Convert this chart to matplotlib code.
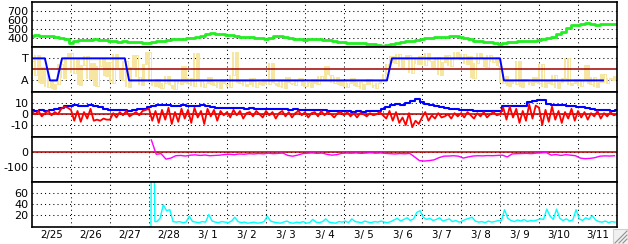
import matplotlib
matplotlib.use('Agg')
import matplotlib.pyplot as plt
import numpy as np
from matplotlib.patches import Rectangle

# ---------------- data ----------------
day_labels = ['2/25', '2/26', '2/27', '2/28', '3/ 1', '3/ 2', '3/ 3', '3/ 4',
              '3/ 5', '3/ 6', '3/ 7', '3/ 8', '3/ 9', '3/10', '3/11']

# panel 1: green, 3h samples from 2/25 00:00
green_step = 0.125
green = [425, 428, 422, 418, 420, 410, 400, 385,
         350, 362, 375, 380, 378, 385, 382, 376,
         372, 365, 360, 362, 358, 355, 352, 350,
         345, 352, 362, 370, 378, 385, 388, 392,
         398, 405, 412, 425, 440, 458, 448, 442,
         438, 430, 420, 415, 412, 408, 400, 395,
         392, 405, 418, 422, 410, 400, 392, 385,
         380, 384, 388, 386, 380, 375, 368, 360,
         352, 350, 348, 345, 340, 335, 328, 318,
         315, 325, 338, 345, 352, 362, 372, 382,
         390, 398, 405, 408, 410, 412, 418, 425,
         415, 400, 385, 370, 362, 358, 352, 345,
         335, 342, 352, 360, 365, 368, 370, 372,
         378, 385, 395, 410, 440, 470, 510, 540,
         550, 560, 565, 558, 550, 555, 558, 555,
         556]

# panel 2: pale yellow signal, 2h samples
yellow_step = 1 / 12
yellow = [0.8, -0.5, 1.3, -1.2, 0.2, -1.6, -1.0, -1.8, -1.3, 0.5, -0.8, 1.1,
          1.5, -0.3, 0.9, -1.4, 0.4, 1.2, -0.9, 0.6, -1.5, 0.3, 1.0, -0.6,
          0.7, -1.2, 1.4, 0.1, -1.0, 0.8, -1.6, 0.2, 1.3, -0.7, -1.4, 0.5,
          1.6, -1.1, -1.5, -0.9, -1.7, -1.2, -0.6, -1.4, -1.8, -1.0, -1.3, 0.3,
          -1.2, -0.8, -1.5, 1.5, -1.0, -1.6, -1.2, -0.7, -1.4, -1.1, -1.7, -0.9,
          -1.3, -1.6, -0.5, 1.6, -1.2, -1.0, -1.5, -1.3, -0.8, -1.6, -1.1, -1.4,
          -0.9, -1.3, 0.6, -1.2, -1.5, -1.0, -1.7, -0.7, -1.2, -1.4, -1.0, -0.8,
          -1.5, -1.1, -1.6, -0.9, -1.3, -0.6, -1.0, 0.3, -0.5, -1.2, -0.7, -1.4,
          -1.0, -1.6, -1.2, -0.8, -1.5, -1.1, -1.8, -1.3, -0.9, -1.4, -1.7, -1.2,
          -1.0, -0.4, 0.5, 1.2, 0.6, 1.4, 0.2, 0.9, 1.3, -0.3, 1.0, 0.5,
          1.2, 0.4, 1.5, 0.8, 0.1, 1.1, -0.5, 0.7, 1.3, 0.3, 1.0, 1.6,
          0.9, 1.4, 0.5, 1.2, -0.8, 0.6, 1.5, 1.0, 0.2, 1.3, 0.7, 1.1,
          0.3, -1.2, -0.6, -1.5, -1.0, -1.3, 0.8, -1.6, -0.9, -1.1, -1.4, -0.7,
          -1.2, 0.5, -1.6, -1.0, -1.3, -0.5, -1.7, -1.1, -0.8, 1.0, -1.4, -1.2,
          -0.9, -1.5, -1.0, 0.4, -1.3, -0.7, -1.6, -1.1, -0.4, -1.2, -0.8, -1.0,
          -0.6]

# panel 2: blue state line (T = 1, A = -1)
state_t = [0, 0.33, 0.46, 0.64, 0.77, 2.38, 2.49, 9.10, 9.23, 12.0, 12.1, 14.64]
state_v = [1, 1, -1, -1, 1, 1, -1, -1, 1, 1, -1, -1]

# panel 3: blue (3h) and red (2h)
blue3_step = 0.125
blue3 = [3.5, 3.2, 3.8, 3.4, 3.6, 4.5, 6.0, 7.2,
         7.8, 8.2, 7.6, 8.0, 8.3, 7.5, 6.5, 5.2,
         4.3, 3.8, 4.0, 3.5, 3.2, 3.8, 4.5, 5.2,
         6.5, 8.0, 8.4, 8.2, 8.6, 8.0, 7.8, 8.3,
         7.6, 7.9, 7.5, 8.2, 7.4, 7.0, 6.2, 5.8,
         5.5, 5.8, 5.3, 5.6, 5.0, 5.4, 5.2, 4.8,
         5.0, 4.6, 5.1, 4.4, 4.8, 4.2, 4.5, 4.0,
         4.3, 3.8, 4.1, 3.6, 3.9, 3.4, 3.0, 3.3,
         2.8, 3.1, 2.5, 2.9, 2.4, 2.8, 3.2, 2.6,
         4.5, 7.0, 8.5, 9.0, 8.8, 10.5, 12.0, 14.5,
         11.0, 9.5, 8.5, 7.8, 6.5, 5.8, 5.0, 4.5,
         4.2, 3.8, 3.5, 3.2, 2.8, 3.0, 2.6, 2.9,
         3.0, 7.5, 7.8, 7.4, 7.6, 7.5, 11.0, 12.5,
         13.0, 13.5, 9.0, 8.4, 8.2, 8.5, 8.0, 7.2,
         6.8, 6.5, 5.5, 4.5, 4.0, 3.6, 3.8, 3.4,
         3.5]
red3_step = 1 / 12
red3 = [2, 0, 3, -2, 1, 3, -1, 2, 0, 5, 7, 6,
        4, -6, 3, -7, 2, -4, 5, -6, -5, -6, -4, -5,
        -5, 1, -3, 2, -1, 3, -2, 0, 2, -1, 3, 4,
        5, -6, 3, -8, 4, -5, 6, -9, 2, -7, 5, -4,
        4, -8, 6, -3, 3, -9, 5, -2, 4, -6, 3, -1,
        2, -3, 4, -1, 3, -4, 1, 2, -2, 3, 0, -3,
        3, -1, 2, -4, 1, 3, -2, 2, -3, 1, 3, -1,
        2, -3, 1, 2, -2, 3, -1, 2, 0, -3, 1, 2,
        -1, 2, -2, 1, -3, 1, 0, -2, 1, -1, 0, 2,
        -1, -4, 3, -6, 2, -8, -3, -10, 1, -12, -6, -9,
        -3, 2, -6, -1, -4, 1, -3, -2, 0, -4, 1, -2,
        1, -3, 2, -1, -4, 1, -2, 2, -3, 0, 2, -1,
        0, 6, -5, 7, -3, 5, -8, 3, -6, 9, -4, 8,
        6, -10, 4, -7, 7, -5, 3, -8, 2, -4, 5, -6,
        3, -3, 2, -5, 1, -2, 3, -4, 1, -2, 2, -1,
        0]

# panel 4: magenta, 3h samples starting 2/28 ~01:30
mag_start = 3.06
mag_step = 0.125
magenta = [85, -12, -8, -45, -38, -22, -20, -24,
           -18, -16, -20, -17, -22, -20, -18, -14,
           -12, -15, -10, -12, -8, -10, -7, -9,
           -5, -8, -6, -4, -20, -25, -18, -8,
           -5, -3, -6, -4, -12, -18, -15, -6,
           -4, -5, -3, -6, -4, -2, -5, -3,
           -6, -8, -10, -7, -9, -6, -30, -55,
           -58, -55, -50, -35, -25, -24, -22, -25,
           -38, -30, -24, -22, -23, -21, -22, -20,
           -18, -30, -10, -8, -7, -6, -8, -4,
           -3, 0, -18, -14, -20, -15, -18, -22,
           -38, -42, -40, -35, -25, -23, -24, -22]

# panel 5: cyan; initial spike times then 2h samples from 3.2
cyan_spike_t = [3.05, 3.06, 3.13, 3.15]
cyan_spike_v = [0, 150, 150, 8]
cyan_start = 3.2
cyan_step = 1 / 12
cyan = [8, 14, 39, 28, 30, 8, 7, 8, 6, 7, 18, 8,
        7, 6, 8, 7, 21, 9, 7, 6, 8, 7, 6, 9,
        16, 8, 6, 7, 5, 6, 7, 5, 6, 8, 18, 9,
        7, 6, 5, 7, 9, 6, 5, 7, 6, 8, 5, 6,
        12, 7, 6, 8, 13, 7, 6, 5, 8, 7, 9, 6,
        13, 8, 7, 6, 9, 7, 6, 8, 7, 9, 7, 6,
        8, 11, 14, 9, 12, 15, 10, 13, 25, 28, 16, 12,
        14, 10, 12, 15, 9, 11, 13, 8, 10, 7, 9, 12,
        14, 16, 9, 7, 8, 6, 9, 7, 8, 10, 9, 30,
        14, 10, 8, 11, 9, 12, 8, 10, 9, 11, 13, 12,
        31, 18, 12, 31, 14, 10, 13, 9, 11, 30, 13, 10,
        15, 12, 19, 11, 8, 7, 9, 6, 8, 7]

# ---------------- figure ----------------
plt.rcParams['font.family'] = ['DejaVu Sans']
W, H = 628, 244
fig = plt.figure(figsize=(W / 100, H / 100), dpi=100)
fig.patch.set_facecolor('white')

left, right = 32, 617
tops = [2, 47, 92, 137, 182]
ph = 45
ylims = [(300, 800), (-2.05, 2.03), (-21, 20.5), (-200, 105), (-2, 81)]
yticks = [[400, 500, 600, 700], [-1, 1], [-10, 0, 10], [-100, 0], [20, 40, 60]]
ylabels = [['400', '500', '600', '700'], ['A', 'T'], ['-10', '0', '10'],
           ['-100', '0'], ['20', '40', '60']]
dot = (0, (1, 3))
axes = []
for i, t in enumerate(tops):
    ax = fig.add_axes([left / W, (H - t - ph) / H, (right - left) / W, ph / H])
    ax.set_xlim(0, 15)
    ax.set_ylim(*ylims[i])
    ax.set_xticks(np.arange(1, 15))
    ax.set_yticks(yticks[i])
    ax.set_yticklabels(ylabels[i])
    ax.tick_params(axis='both', length=0, labelsize=8, pad=2.5)
    ax.tick_params(axis='x', which='major', labelbottom=False)
    ax.grid(True, which='major', color='black', linestyle=dot, linewidth=0.75)
    ax.set_axisbelow(True)
    for s in ax.spines.values():
        s.set_linewidth(1.2)
        s.set_color('black')
    axes.append(ax)

ax1, ax2, ax3, ax4, ax5 = axes

# panel 1
tg = np.arange(len(green)) * green_step
ax1.plot(tg, green, color='#22ee22', lw=2.0, drawstyle='steps-mid')

# panel 2: yellow drawn as vertical strokes between successive samples
ty = np.arange(len(yellow)) * yellow_step
ya = np.array(yellow)
ax2.vlines(ty[:-1], np.minimum(ya[:-1], ya[1:]), np.maximum(ya[:-1], ya[1:]),
           color='#f7e6a0', lw=1.4)
ax2.plot(ty, yellow, color='#f7e6a0', lw=0.7, drawstyle='steps-mid')
ax2.axhline(0, color='#a00000', lw=1.1)
ax2.plot(state_t, state_v, color='#0000ff', lw=1.4)

# panel 3
ax3.axhline(0, color='#b00000', lw=1.1)
tb = np.arange(len(blue3)) * blue3_step
ax3.plot(tb, blue3, color='#0000ff', lw=1.5, drawstyle='steps-mid')
tr = np.arange(len(red3)) * red3_step
ax3.plot(tr, red3, color='#ff0000', lw=1.3)

# panel 4
ax4.axhline(0, color='#b00000', lw=1.1)
tm = mag_start + np.arange(len(magenta)) * mag_step
ax4.plot(tm, magenta, color='#ff00ff', lw=1.0)

# panel 5
tc = list(cyan_spike_t) + list(cyan_start + np.arange(len(cyan)) * cyan_step)
vc = list(cyan_spike_v) + list(cyan)
ax5.plot(tc, vc, color='#00ffff', lw=1.0)

# date labels on bottom axis (day centres)
ax5.set_xticks(np.arange(len(day_labels)) + 0.5, minor=True)
ax5.set_xticklabels(day_labels, minor=True)
ax5.tick_params(axis='x', which='minor', length=0, labelsize=7.4, pad=2.5)

# resize grip in bottom-right corner
gax = fig.add_axes([612 / W, 0, 16 / W, 16 / H])
gax.set_xlim(0, 16)
gax.set_ylim(0, 16)
gax.axis('off')
gax.add_patch(Rectangle((0.5, 0.5), 15, 15, facecolor='#f0f0f0', edgecolor='#d0d0d0', lw=0.8))
for k in (4, 8, 12):
    gax.plot([15 - k, 15], [1, 1 + k], color='#909090', lw=0.8)

fig.savefig('out.png', dpi=100, facecolor='white')
